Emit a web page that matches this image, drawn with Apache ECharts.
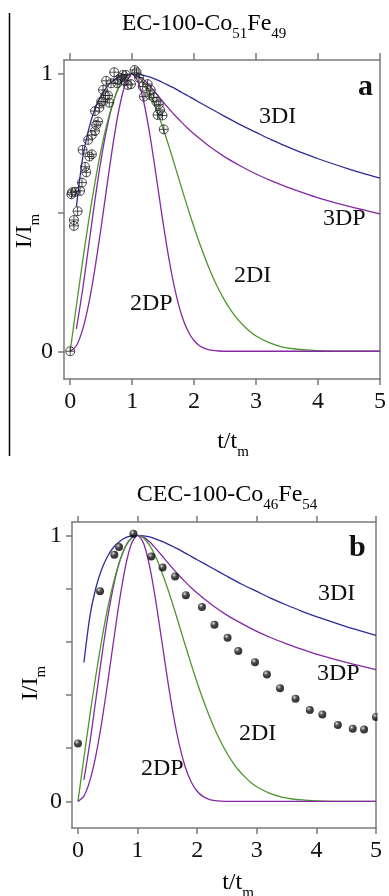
<!DOCTYPE html>
<html><head><meta charset="utf-8">
<script src="https://cdn.jsdelivr.net/npm/echarts@6/dist/echarts.min.js"></script>
<style>html,body{margin:0;padding:0;background:#fff}#c{width:389px;height:896px}</style>
</head><body><div id="c"></div>
<script>
// ---- data ----
const xTicks = [0, 1, 2, 3, 4, 5];
const yTicksA = [0, 0.5, 1];
const yTicksB = [0, 0.2, 0.4, 0.6, 0.8, 1];
const yLabels = [0, 1];

const t3D = [0.1,0.2,0.3,0.4,0.5,0.6,0.7,0.8,0.9,1.0,1.1,1.2,1.3,1.4,1.5,1.6,1.7,1.8,1.9,2.0,2.25,2.5,2.75,3.0,3.25,3.5,3.75,4.0,4.5,5.0];
const i3DI = [0.522,0.695,0.802,0.873,0.922,0.956,0.977,0.991,0.998,1.000,0.998,0.994,0.987,0.978,0.968,0.957,0.946,0.933,0.921,0.908,0.877,0.846,0.816,0.789,0.762,0.738,0.715,0.694,0.657,0.624];
const i3DP = [0.081,0.221,0.383,0.546,0.693,0.813,0.902,0.960,0.991,1.000,0.993,0.976,0.952,0.926,0.899,0.873,0.848,0.825,0.803,0.783,0.738,0.700,0.668,0.639,0.614,0.592,0.572,0.553,0.522,0.495];

const t2D = [0,0.1,0.2,0.3,0.4,0.5,0.6,0.7,0.8,0.9,1.0,1.1,1.2,1.3,1.4,1.5,1.6,1.7,1.8,1.9,2.0,2.1,2.2,2.3,2.4,2.5,2.6,2.7,2.8,2.9,3.0,3.2,3.4,3.6,3.8,4.0,4.5,5.0];
const i2DI = [0,0.164,0.323,0.473,0.609,0.728,0.826,0.903,0.958,0.990,1.000,0.990,0.963,0.921,0.866,0.803,0.734,0.661,0.587,0.515,0.446,0.382,0.323,0.269,0.222,0.181,0.146,0.116,0.092,0.071,0.055,0.032,0.017,0.009,0.005,0.002,0,0];
const i2DP = [0,0.020,0.078,0.172,0.299,0.448,0.607,0.759,0.886,0.970,1.000,0.970,0.886,0.761,0.613,0.462,0.325,0.213,0.129,0.073,0.038,0.018,0.008,0.003,0.001,0,0,0,0,0,0,0,0,0,0,0,0,0];

const tA = [0,0.02,0.03,0.06,0.06,0.08,0.12,0.16,0.19,0.20,0.24,0.26,0.29,0.31,0.35,0.35,0.40,0.40,0.42,0.45,0.47,0.50,0.53,0.53,0.57,0.58,0.61,0.63,0.66,0.71,0.76,0.77,0.82,0.85,0.88,0.90,0.93,0.98,1.04,1.07,1.11,1.17,1.19,1.25,1.28,1.30,1.35,1.39,1.43,1.41,1.45,1.49,1.51];
const iA = [0,0.566,0.573,0.452,0.473,0.575,0.505,0.578,0.608,0.726,0.665,0.645,0.762,0.702,0.71,0.78,0.794,0.866,0.816,0.828,0.878,0.90,0.942,0.90,0.922,0.975,0.922,0.896,0.966,1.006,0.966,0.978,0.986,0.996,0.975,0.996,0.96,0.963,1.014,1.006,0.986,0.954,0.918,0.963,0.924,0.942,0.915,0.90,0.89,0.852,0.87,0.85,0.80];

const tB = [0,0.37,0.61,0.69,0.93,1.23,1.42,1.63,1.81,2.08,2.29,2.51,2.69,2.97,3.17,3.39,3.65,3.89,4.10,4.36,4.61,4.80,5.0];
const iB = [0.218,0.79,0.927,0.956,1.006,0.92,0.879,0.845,0.775,0.731,0.664,0.615,0.565,0.523,0.477,0.425,0.386,0.343,0.327,0.287,0.273,0.27,0.317];

const titleA = ['EC-100-Co', '51', 'Fe', '49'];
const titleB = ['CEC-100-Co', '46', 'Fe', '54'];
const modelNames = ['3DI', '3DP', '2DI', '2DP'];

// ---- styling ----
const FONT = '"Liberation Serif","Times New Roman",serif';
const AX = '#7a7a7a';
const BLUE = '#2c2c9c', PURPLE = '#8428a4', GREEN = '#4c962e';
const TXT = '#111';

function pairs(t, v) { return t.map((x, i) => [x, v[i]]); }

function xAxes(gi, tickLenB, tickLenT) {
  return [
    { gridIndex: gi, type: 'value', min: -0.1, max: 5, position: 'bottom',
      axisLine: { show: true, onZero: false, lineStyle: { color: AX, width: 1.5 } },
      axisTick: { show: true, length: tickLenB, customValues: xTicks, lineStyle: { color: AX, width: 1.5 } },
      axisLabel: { show: true, customValues: xTicks, margin: 11, fontFamily: FONT, fontSize: 24, color: TXT },
      splitLine: { show: false } },
    { gridIndex: gi, type: 'value', min: -0.1, max: 5, position: 'top',
      axisLine: { show: true, onZero: false, lineStyle: { color: AX, width: 1.5 } },
      axisTick: { show: true, length: tickLenT, customValues: xTicks, lineStyle: { color: AX, width: 1.5 } },
      axisLabel: { show: false }, splitLine: { show: false } }
  ];
}
function yAxes(gi, ticks, margin) {
  return [
    { gridIndex: gi, type: 'value', min: -0.1, max: 1.05, position: 'left',
      axisLine: { show: true, onZero: false, lineStyle: { color: AX, width: 1.5 } },
      axisTick: { show: true, length: 6, customValues: ticks, lineStyle: { color: AX, width: 1.5 } },
      axisLabel: { show: true, customValues: yLabels, margin: margin, fontFamily: FONT, fontSize: 24, color: TXT },
      splitLine: { show: false } },
    { gridIndex: gi, type: 'value', min: -0.1, max: 1.05, position: 'right',
      axisLine: { show: true, onZero: false, lineStyle: { color: AX, width: 1.5 } },
      axisTick: { show: false }, axisLabel: { show: false }, splitLine: { show: false } }
  ];
}
function curves(xi, yi) {
  const mk = (name, t, v, color) => ({
    name, type: 'line', xAxisIndex: xi, yAxisIndex: yi, data: pairs(t, v),
    showSymbol: false, symbol: 'none', smooth: 0.25, silent: true,
    lineStyle: { color, width: 1.3 }, z: 2
  });
  return [
    mk(modelNames[0], t3D, i3DI, BLUE),
    mk(modelNames[1], t3D, i3DP, PURPLE),
    mk(modelNames[2], t2D, i2DI, GREEN),
    mk(modelNames[3], t2D, i2DP, PURPLE)
  ];
}

const richMain = { fontFamily: FONT, fontSize: 24, color: TXT, lineHeight: 24 };
const richSub = { fontFamily: FONT, fontSize: 15, color: TXT, lineHeight: 15, padding: [21, 0, 0, 0] };

function rtext(x, y, str, rot) {
  return { type: 'text', x, y, rotation: rot || 0, z: 50,
    style: { text: str, rich: { a: richMain, s: richSub },
      align: 'center', verticalAlign: 'middle', textAlign: 'center', textVerticalAlign: 'middle' } };
}
function ptext(x, y, str, size, bold) {
  return { type: 'text', x, y, z: 50,
    style: { text: str, fontFamily: FONT, fontSize: size, fontWeight: bold ? 'bold' : 'normal', fill: TXT,
      align: 'left', verticalAlign: 'middle', textAlign: 'left', textVerticalAlign: 'middle' } };
}
const ttl = (p) => '{a|' + p[0] + '}{s|' + p[1] + '}{a|' + p[2] + '}{s|' + p[3] + '}';

const circleCross = 'path://M0,10A10,10,0,1,0,20,10A10,10,0,1,0,0,10Z M10,0L10,20 M0,10L20,10';

const option = {
  animation: false,
  backgroundColor: '#fff',
  grid: [
    { left: 64, top: 60, width: 320, height: 319 },
    { left: 72, top: 522, width: 304, height: 306 }
  ],
  xAxis: [...xAxes(0, 6, 7), ...xAxes(1, 6, 6)],
  yAxis: [...yAxes(0, yTicksA, 11), ...yAxes(1, yTicksB, 10)],
  series: [
    ...curves(0, 0),
    { type: 'scatter', xAxisIndex: 0, yAxisIndex: 0, data: pairs(tA, iA), symbol: circleCross, symbolSize: 9,
      itemStyle: { color: 'rgba(0,0,0,0)', borderColor: '#222', borderWidth: 1 }, silent: true, z: 3 },
    ...curves(2, 2),
    { type: 'scatter', xAxisIndex: 2, yAxisIndex: 2, data: pairs(tB, iB), symbol: 'circle', symbolSize: 8,
      itemStyle: { color: { type: 'radial', x: 0.36, y: 0.32, r: 0.7,
        colorStops: [{ offset: 0, color: '#ffffff' }, { offset: 0.18, color: '#777' }, { offset: 0.5, color: '#111' }, { offset: 1, color: '#000' }] } },
      silent: true, z: 3 }
  ],
  graphic: [
    { type: 'line', shape: { x1: 9.5, y1: 13, x2: 9.5, y2: 456 }, style: { stroke: '#000', lineWidth: 1.5 }, z: 50 },
    { type: 'rect', shape: { x: 377.5, y: 700, width: 12, height: 40 }, style: { fill: '#fff' }, z: 40 },
    rtext(204, 24, ttl(titleA)),
    rtext(227, 495, ttl(titleB)),
    rtext(233, 442, '{a|t/t}{s|m}'),
    rtext(238, 883, '{a|t/t}{s|m}'),
    rtext(25, 231, '{a|I/I}{s|m}', Math.PI / 2),
    rtext(31, 683, '{a|I/I}{s|m}', Math.PI / 2),
    ptext(358, 87, 'a', 30, true),
    ptext(349, 548, 'b', 30, true),
    ptext(259, 117, modelNames[0], 24),
    ptext(323, 219, modelNames[1], 24),
    ptext(234, 276, modelNames[2], 24),
    ptext(130, 304, modelNames[3], 24),
    ptext(318, 594, modelNames[0], 24),
    ptext(317, 674, modelNames[1], 24),
    ptext(239, 734, modelNames[2], 24),
    ptext(141, 769, modelNames[3], 24)
  ]
};
const chart = echarts.init(document.getElementById('c'), null, { renderer: 'canvas' });
chart.setOption(option);
</script></body></html>
